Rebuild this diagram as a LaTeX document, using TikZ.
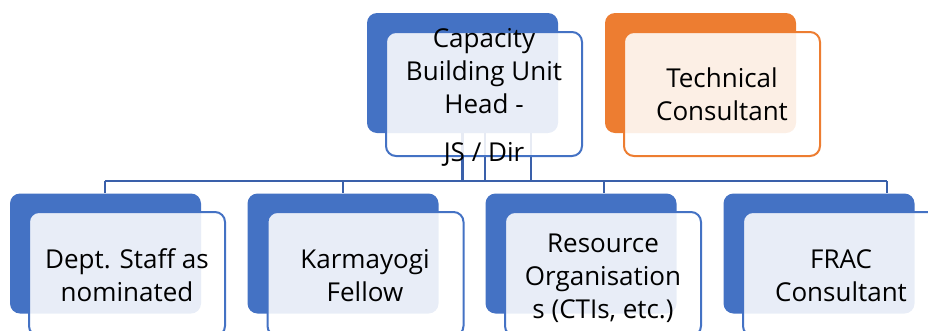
\documentclass[tikz,border=0pt]{standalone}
\usepackage{fontspec}
\setmainfont{Open Sans}
\usetikzlibrary{calc}
\definecolor{accblue}{RGB}{68,114,196}
\definecolor{lineblue}{RGB}{58,96,170}
\definecolor{accorange}{RGB}{237,125,49}
\tikzset{
  backbox/.style={rounded corners=10pt, minimum width=191pt, minimum height=120pt, inner sep=0pt},
  frontbox/.style={rounded corners=10pt, line width=2pt, fill=white, fill opacity=0.88,
    draw opacity=1, minimum width=196pt, minimum height=124pt, inner sep=0pt},
  conn/.style={draw=lineblue, line width=2.2pt},
  label/.style={anchor=base, inner sep=0pt, text=black,
    font=\fontsize{26}{33}\selectfont},
}
\newcommand{\lines}[1]{\begin{tabular}[t]{@{}c@{}}#1\end{tabular}}
\begin{document}
\begin{tikzpicture}[x=1pt, y=-1pt]
  \useasboundingbox (0,0) rectangle (928,330);
  \clip (0,0) rectangle (928,330);

  % back tiles
  \node[backbox, fill=accblue]   (hb)  at (462.5,73)  {};
  \node[backbox, fill=accorange] (tb)  at (700.5,73)  {};
  \node[backbox, fill=accblue]   (c1b) at (105.5,253.5) {};
  \node[backbox, fill=accblue]   (c2b) at (343,253.5) {};
  \node[backbox, fill=accblue]   (c3b) at (581,253.5) {};
  \node[backbox, fill=accblue]   (c4b) at (819,253.5) {};

  % connectors: bus and drops
  \coordinate (busL) at (105,181);
  \coordinate (busR) at (887,181);
  \draw[conn] (busL) -- (busR);
  \draw[conn] (hb.south) -- (hb.south |- busL);
  \draw[conn] ([xshift=22.5pt]hb.south) -- ([xshift=22.5pt]hb.south |- busL);
  \draw[conn] ([xshift=68.5pt]hb.south) -- ([xshift=68.5pt]hb.south |- busL);
  \draw[conn] (busL) -- (busL |- c1b.north);
  \draw[conn] (c2b.north |- busL) -- (c2b.north);
  \draw[conn] ([xshift=23pt]c3b.north |- busL) -- ([xshift=23pt]c3b.north);
  \draw[conn] (busR) -- (busR |- c4b.north);

  % front cards
  \node[frontbox, draw=accblue]   (hf)  at (484,94)  {};
  \node[frontbox, draw=accorange] (tf)  at (722,94)  {};
  \node[frontbox, draw=accblue]   (c1f) at (127,274) {};
  \node[frontbox, draw=accblue]   (c2f) at (365.5,274) {};
  \node[frontbox, draw=accblue]   (c3f) at (603,274) {};
  \node[frontbox, draw=accblue]   (c4f) at (841,274) {};

  % texts
  \node[label] (ht) at (484,47)  {\lines{Capacity\\Building Unit\\Head -\\[15pt]JS / Dir}};
  \node[label] (tt) at (722,87)  {\lines{Technical\\Consultant}};
  \node[label] (c1t) at (127,268) {\lines{Dept. Staff as\\nominated}};
  \node[label] (c2t) at (365,268) {\lines{Karmayogi\\Fellow}};
  \node[label] (c3t) at (603,252) {\lines{Resource\\Organisation\\s (CTIs, etc.)}};
  \node[label] (c4t) at (841,268) {\lines{FRAC\\Consultant}};
\end{tikzpicture}
\end{document}
